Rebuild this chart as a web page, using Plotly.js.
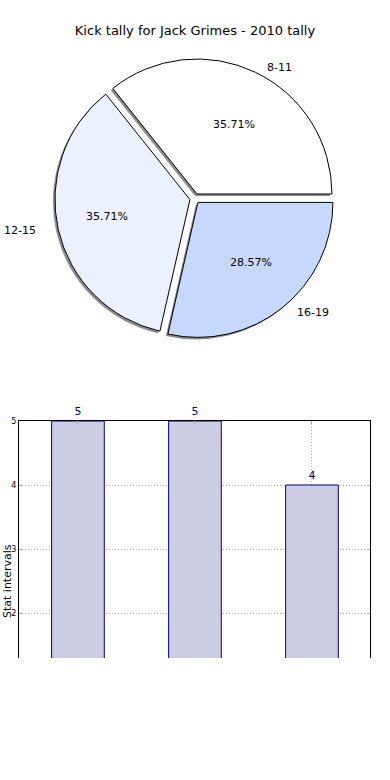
<!DOCTYPE html>
<html>
<head>
<meta charset="utf-8">
<script src="https://cdn.plot.ly/plotly-3.0.1.min.js"></script>
<style>html,body{margin:0;padding:0;background:#fff;}#chart{width:390px;height:780px;}</style>
</head>
<body>
<div id="chart"></div>
<script>
// ---- data ----
const categories = ['8-11', '12-15', '16-19'];
const kickCounts = [5, 5, 4];
const sliceColors = ['#ffffff', '#ebf1fe', '#c6d9fd'];
const chartTitle = 'Kick tally for Jack Grimes - 2010 tally';
const yTitle = 'Stat intervals';
const yTicks = [2, 3, 4, 5];

// ---- layout helpers (pixels) ----
const W = 390, H = 780;
const FONT = 'DejaVu Sans, sans-serif';
const cx = 194.8, cy = 198.5, R = 135, pullPx = 5;
const pull = pullPx / R;
const half = R * (1 + pull);
function dom(x0, y0, h) {
  return {x: [(x0 - h) / W, (x0 + h) / W], y: [(H - (y0 + h)) / H, (H - (y0 - h)) / H]};
}

const total = kickCounts.reduce((a, b) => a + b, 0);
// first slice starts at 3 o'clock and runs counterclockwise
const rot = 90 - 360 * kickCounts[0] / total;

const shadow = {
  type: 'pie', values: kickCounts, labels: categories.map(c => 'shadow ' + c), sort: false,
  direction: 'counterclockwise', rotation: rot,
  pull: kickCounts.map(() => pull),
  marker: {colors: kickCounts.map(() => '#8c8c8c'), line: {width: 0}},
  textinfo: 'none', hoverinfo: 'skip', showlegend: false,
  domain: dom(cx - 2, cy + 2, half)
};
const pie = {
  type: 'pie', values: kickCounts, labels: categories, sort: false,
  direction: 'counterclockwise', rotation: rot,
  pull: kickCounts.map(() => pull),
  marker: {colors: sliceColors, line: {color: '#000000', width: 1}},
  textinfo: 'none', hoverinfo: 'skip', showlegend: false,
  domain: dom(cx, cy, half)
};

const bars = {
  type: 'bar', x: categories, y: kickCounts, width: 0.45,
  marker: {color: '#ccccE5', line: {color: '#000080', width: 1}},
  text: kickCounts.map(String), textposition: 'outside', cliponaxis: false,
  constraintext: 'none',
  textfont: {family: FONT, size: 11, color: '#000080'},
  hoverinfo: 'skip', showlegend: false,
  xaxis: 'x', yaxis: 'y'
};

// annotations for pie labels & percentages (matplotlib-like positions)
const rx = 142, ry = 128;
const ann = [];
let start = 0;
kickCounts.forEach((v, i) => {
  const frac = v / total;
  const mid = (start + frac / 2) * 2 * Math.PI;
  start += frac;
  const ax = cx + pullPx * Math.cos(mid), ay = cy - pullPx * Math.sin(mid);
  const px = ax + 0.6 * rx * Math.cos(mid), py = ay - 0.6 * ry * Math.sin(mid);
  const lx = ax + 1.1 * rx * Math.cos(mid), ly = ay - 1.1 * ry * Math.sin(mid);
  ann.push({xref: 'paper', yref: 'paper', x: px / W, y: 1 - py / H, showarrow: false,
    text: (frac * 100).toFixed(2) + '%', xanchor: 'center', yanchor: 'middle',
    font: {family: FONT, size: 11, color: '#000'}});
  ann.push({xref: 'paper', yref: 'paper', x: lx / W, y: 1 - ly / H, showarrow: false,
    text: categories[i], xanchor: Math.cos(mid) >= 0 ? 'left' : 'right', yanchor: 'middle',
    font: {family: FONT, size: 11, color: '#000'}});
});
ann.push({xref: 'paper', yref: 'paper', x: 7 / W, y: 1 - 581 / H, showarrow: false,
  text: yTitle, textangle: -90, xanchor: 'center', yanchor: 'middle',
  font: {family: FONT, size: 11, color: '#000'}});

const layout = {
  width: W, height: H,
  margin: {l: 0, r: 0, t: 0, b: 0},
  paper_bgcolor: '#fff', plot_bgcolor: '#fff',
  font: {family: FONT, color: '#000'},
  title: {text: chartTitle, x: 0.5, xanchor: 'center', xref: 'paper',
    y: 1 - 30 / H, yref: 'container', yanchor: 'middle',
    font: {family: FONT, size: 13, color: '#000'}},
  xaxis: {domain: [19 / W, 370 / W], range: [-0.504, 2.496], side: 'top',
    showline: true, linecolor: '#000', linewidth: 1, showticklabels: false,
    ticks: 'inside', ticklen: 3, tickcolor: '#aaaaaa',
    showgrid: true, gridcolor: '#b4b4b4', griddash: '1px,2px', gridwidth: 1,
    zeroline: false, fixedrange: true},
  yaxis: {domain: [(H - 658) / H, (H - 421) / H], range: [1.297, 5],
    tickvals: yTicks, ticktext: yTicks.map(String),
    showline: true, mirror: 'ticks', linecolor: '#000', linewidth: 1,
    ticks: 'inside', ticklen: 3, tickcolor: '#aaaaaa',
    tickfont: {family: FONT, size: 8, color: '#000'},
    showgrid: true, gridcolor: '#b4b4b4', griddash: '1px,2px', gridwidth: 1,
    zeroline: false, fixedrange: true},
  annotations: ann,
  bargap: 0
};

Plotly.newPlot('chart', [bars, shadow, pie], layout, {displayModeBar: false, staticPlot: true});
</script>
</body>
</html>
